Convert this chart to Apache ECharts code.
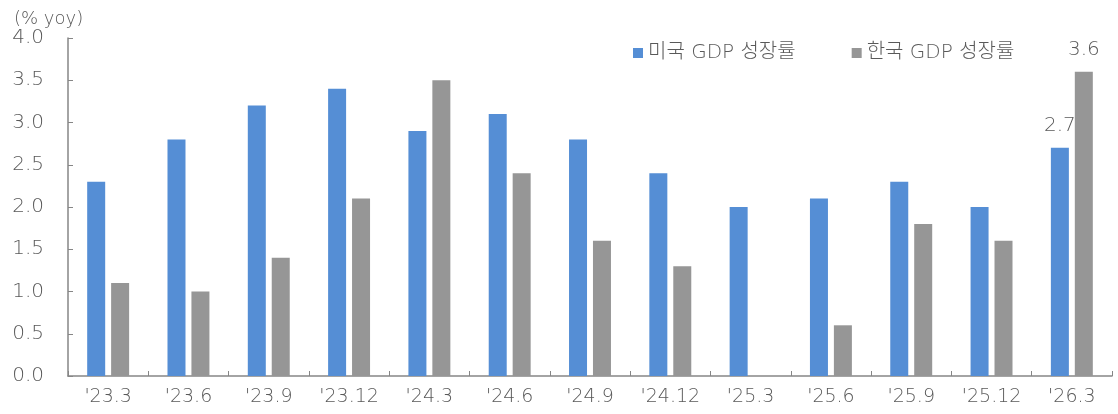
<!DOCTYPE html>
<html>
<head>
<meta charset="utf-8">
<script src="https://cdn.jsdelivr.net/npm/echarts@6/dist/echarts.min.js"></script>
<style>
  html, body { margin: 0; padding: 0; background: #fff; }
  #chart { width: 1118px; height: 414px; }
</style>
</head>
<body>
<div id="chart"></div>
<script>
// Quarterly GDP growth, % year over year
const categories = ["'23.3", "'23.6", "'23.9", "'23.12", "'24.3", "'24.6", "'24.9", "'24.12", "'25.3", "'25.6", "'25.9", "'25.12", "'26.3"];
const usGrowth = [2.3, 2.8, 3.2, 3.4, 2.9, 3.1, 2.8, 2.4, 2.0, 2.1, 2.3, 2.0, 2.7];
const krGrowth = [1.1, 1.0, 1.4, 2.1, 3.5, 2.4, 1.6, 1.3, 0.0, 0.6, 1.8, 1.6, 3.6];
const seriesNames = ['미국 GDP 성장률', '한국 GDP 성장률'];
const yTicks = { min: 0, max: 4, interval: 0.5 };

const FONT = '"DejaVu Sans", "Noto Sans CJK KR", sans-serif';
const WEIGHT = 200;
const TEXT = '#595959';
const AXIS = '#868686';
const last = categories.length - 1;

// Only the latest quarter carries a value label
function withLastLabel(values) {
  return values.map((v, i) => i === last
    ? { value: v, label: { show: true, position: 'top', distance: 12, color: TEXT, fontSize: 20, fontWeight: WEIGHT, fontFamily: FONT, formatter: p => p.value.toFixed(1) } }
    : v);
}

const chart = echarts.init(document.getElementById('chart'), null, { renderer: 'canvas' });
chart.setOption({
  animation: false,
  textStyle: { fontFamily: FONT },
  title: {
    text: '(% yoy)', left: 9, top: 5,
    textStyle: { color: TEXT, fontSize: 18, fontWeight: WEIGHT, fontFamily: FONT }
  },
  legend: {
    data: seriesNames,
    left: 628, top: 38,
    itemWidth: 10, itemHeight: 10, itemGap: 56,
    icon: 'rect',
    textStyle: { color: TEXT, fontSize: 20, fontWeight: WEIGHT, fontFamily: FONT }
  },
  grid: { left: 68, right: 6, top: 38, bottom: 38, containLabel: false },
  xAxis: {
    type: 'category',
    data: categories,
    axisLine: { lineStyle: { color: AXIS, width: 1.5 } },
    axisTick: { show: true, inside: true, length: 5, alignWithLabel: false, lineStyle: { color: AXIS } },
    axisLabel: { interval: 0, color: TEXT, fontSize: 19, fontWeight: WEIGHT, fontFamily: FONT, margin: 12 }
  },
  yAxis: {
    type: 'value',
    min: yTicks.min, max: yTicks.max, interval: yTicks.interval,
    axisLine: { show: true, lineStyle: { color: AXIS, width: 1.5 } },
    axisTick: { show: true, inside: true, length: 5, lineStyle: { color: AXIS } },
    splitLine: { show: false },
    axisLabel: { color: TEXT, fontSize: 20, fontWeight: WEIGHT, fontFamily: FONT, margin: 24, formatter: v => v.toFixed(1) }
  },
  series: [
    {
      name: seriesNames[0], type: 'bar', data: withLastLabel(usGrowth),
      barWidth: 18, barGap: '33%',
      itemStyle: { color: '#558ed5' }
    },
    {
      name: seriesNames[1], type: 'bar', data: withLastLabel(krGrowth),
      barWidth: 18,
      itemStyle: { color: '#969696' }
    }
  ]
});
</script>
</body>
</html>
